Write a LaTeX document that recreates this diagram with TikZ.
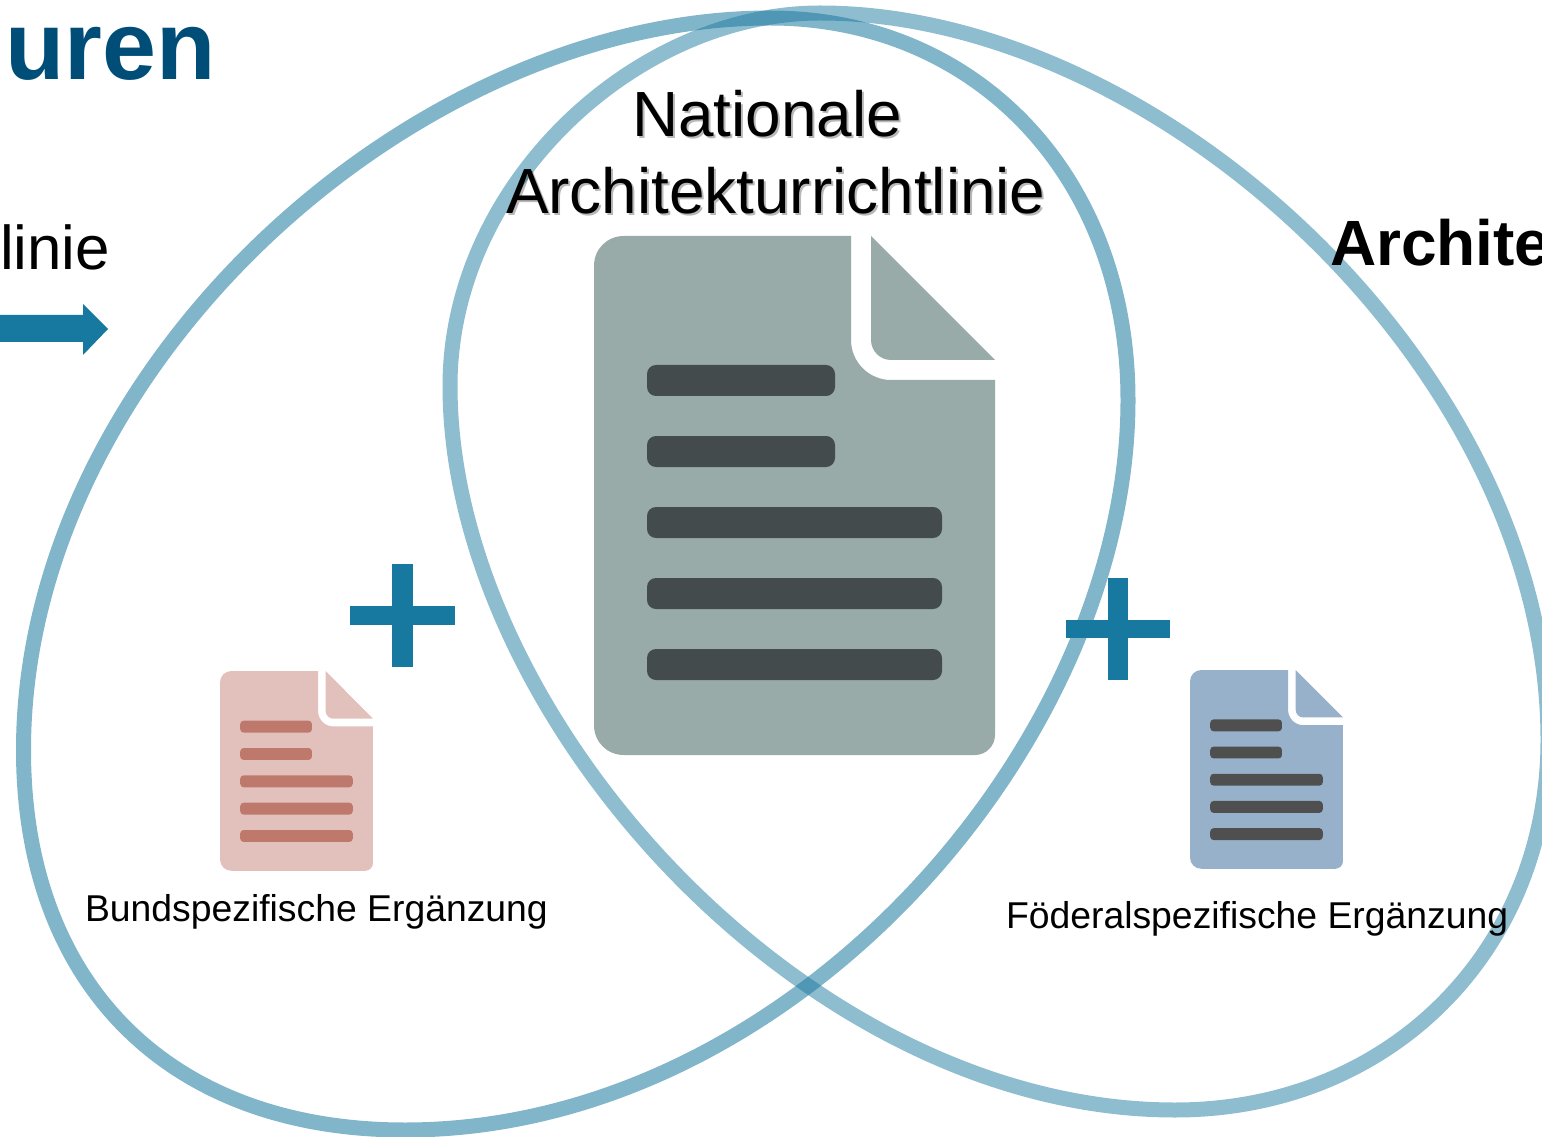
\documentclass[tikz,border=0pt]{standalone}
\usepackage{fontspec}
\setmainfont{Liberation Sans}
\definecolor{loopblue}{HTML}{1A789F}
\definecolor{plusblue}{HTML}{17799F}
\definecolor{titleblue}{HTML}{004E78}
\definecolor{greydoc}{HTML}{99ABA9}
\definecolor{greybar}{HTML}{434B4C}
\definecolor{pinkdoc}{HTML}{E2C1BC}
\definecolor{pinkbar}{HTML}{BF796C}
\definecolor{bluedoc}{HTML}{97B1CB}
\definecolor{bluebar}{HTML}{4F4F4F}
\tikzset{
  loopa/.style={draw=loopblue,line width=11.25pt,opacity=.55},
  loopb/.style={draw=loopblue,line width=11.25pt,opacity=.49},
  txt/.style={inner sep=0pt,outer sep=0pt,anchor=base west,text=black},
  nattxt/.style={txt,font=\fontsize{47.9}{47.9}\selectfont},
  natshadow/.style={nattxt,text=black,text opacity=.28},
  plusbar/.style={fill=plusblue,draw=none},
}
\newcommand{\docbar}[3]{%
  (#1+9,#3) -- (#2-9,#3) .. controls (#2-4,#3) and (#2,#3+4) .. (#2,#3+9) -- (#2,#3+22)
  .. controls (#2,#3+27) and (#2-4,#3+31) .. (#2-9,#3+31) -- (#1+9,#3+31)
  .. controls (#1+4,#3+31) and (#1,#3+27) .. (#1,#3+22) -- (#1,#3+9)
  .. controls (#1,#3+4) and (#1+4,#3) .. (#1+9,#3) -- cycle }
\newcommand{\docicon}[6]{%
  \begin{scope}[shift={(#1,#2)},xscale=#3,yscale=#4,shift={(-594,-236)}]
    \fill[#5] (624,236) -- (851,236) -- (851,340) .. controls (851,362) and (869,380) .. (891,380)
      -- (995,380) -- (995,735) .. controls (995,746) and (986,755) .. (975,755)
      -- (624,755) .. controls (607,755) and (594,742) .. (594,725)
      -- (594,266) .. controls (594,249) and (607,236) .. (624,236) -- cycle;
    \fill[#5] (871,236) -- (995,360) -- (891,360) .. controls (880,360) and (871,351) .. (871,340) -- cycle;
    \fill[#6] \docbar{647}{835}{365} \docbar{647}{835}{436} \docbar{647}{942}{507}
      \docbar{647}{942}{578} \docbar{647}{942}{649};
  \end{scope}}
\begin{document}
\begin{tikzpicture}[x=0.75pt,y=-0.75pt]
\useasboundingbox (0,0) rectangle (1542,1137);
% loops
\draw[loopa] (405,1130) .. controls (170,1130) and (23.5,985) .. (23.5,750)
  .. controls (23.5,370) and (410,18) .. (770,18)
  .. controls (975,18) and (1128,175) .. (1128,400)
  .. controls (1128,745) and (790,1130) .. (405,1130) -- cycle;
\draw[loopb] (1175,1110) .. controls (1390,1110) and (1548,950) .. (1548,740)
  .. controls (1548,370) and (1160,13) .. (820,13)
  .. controls (635,13) and (450,185) .. (450,386)
  .. controls (450,716) and (805,1110) .. (1175,1110) -- cycle;
% documents
\docicon{594}{236}{1}{1}{greydoc}{greybar}
\docicon{220}{671}{.3815}{.385}{pinkdoc}{pinkbar}
\docicon{1190}{670}{.3815}{.383}{bluedoc}{bluebar}
% plus signs
\fill[plusbar] (350,606) rectangle (455,625);
\fill[plusbar] (392,564) rectangle (413,667);
\fill[plusbar] (1066,620) rectangle (1170,638);
\fill[plusbar] (1108,578) rectangle (1128,680);
% arrow
\fill[plusblue] (0,315) -- (83,315) -- (83,304) -- (108,329) -- (83,355) -- (83,342) -- (0,342) -- cycle;
% texts
\node[txt,text=titleblue,font=\fontsize{72.8}{72.8}\selectfont\bfseries] (title) at (5,80) {uren};
\node[txt,font=\fontsize{46.4}{46.4}\selectfont] (linie) at (0,270) {linie};
\node[txt,font=\fontsize{48}{48}\selectfont\bfseries] (archi) at (1330,266) {Archite};
\node[natshadow] (nat1s) at (634,139) {Nationale};
\node[natshadow] (nat2s) at (508,216) {Architekturrichtlinie};
\node[nattxt] (nat1) at (632,137) {Nationale};
\node[nattxt] (nat2) at (506,214) {Architekturrichtlinie};
\node[txt,font=\fontsize{28}{28}\selectfont] (bund) at (85,921) {Bundspezifische Ergänzung};
\node[txt,font=\fontsize{28}{28}\selectfont] (foed) at (1006,928) {Föderalspezifische Ergänzung};
\end{tikzpicture}
\end{document}
